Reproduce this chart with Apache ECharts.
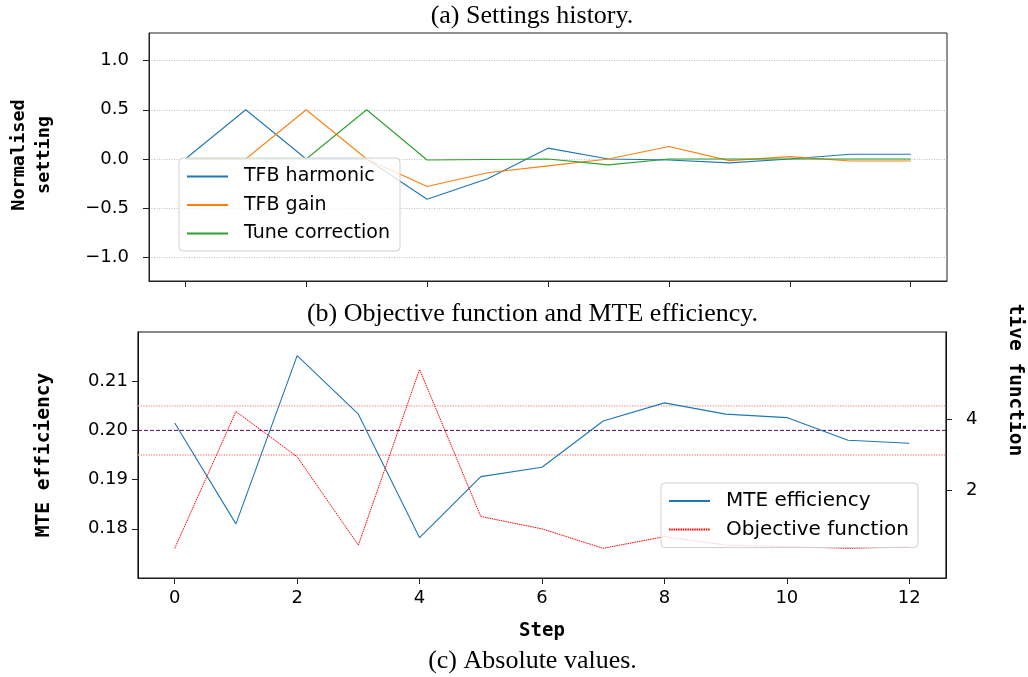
<!DOCTYPE html>
<html><head><meta charset="utf-8">
<script src="https://cdn.jsdelivr.net/npm/echarts@6/dist/echarts.min.js"></script>
<style>html,body{margin:0;padding:0;background:#fff}#c{width:1028px;height:677px}</style>
</head><body><div id="c"></div>
<script>
// ---- data ----
const steps = [0, 1, 2, 3, 4, 5, 6, 7, 8, 9, 10, 11, 12];
const tfbHarmonic = [0, 0.5, 0, 0, -0.41, -0.20, 0.11, 0.0, -0.01, -0.04, 0.0, 0.048, 0.048];
const tfbGain = [0, 0, 0.5, 0, -0.28, -0.14, -0.07, 0.0, 0.126, -0.017, 0.024, -0.02, -0.02];
const tuneCorrection = [0, 0, 0, 0.5, -0.01, -0.005, 0, -0.06, 0, 0, 0, 0, 0];
const mteEfficiency = [0.2015, 0.1810, 0.2152, 0.2033, 0.1782, 0.1906, 0.1925, 0.2019, 0.2056, 0.2033, 0.2026, 0.1980, 0.1974];
const objectiveFunction = [0.35, 4.22, 2.94, 0.44, 5.41, 1.25, 0.90, 0.35, 0.68, 0.44, 0.40, 0.35, 0.39];
const mteTarget = 0.20;
const mteBand = [0.195, 0.205];
const stepTicks = [0, 2, 4, 6, 8, 10, 12];
const settingTicks = [-1, -0.5, 0, 0.5, 1];
const mteTicks = [0.18, 0.19, 0.20, 0.21];
const objectiveTicks = [2, 4];
const settingNames = ['TFB harmonic', 'TFB gain', 'Tune correction'];
const bottomNames = ['MTE efficiency', 'Objective function'];

const pairs = arr => steps.map((s, i) => [s, arr[i]]);
const tickFont = {fontFamily: 'DejaVu Sans', fontSize: 18, color: '#000'};
const minus = v => (v < 0 ? '\u2212' : '');

const chart = echarts.init(document.getElementById('c'), null, {renderer: 'canvas'});
const xCommon = {
  type: 'value', min: -0.6, max: 12.6,
  axisLine: {show: true, onZero: false, lineStyle: {color: '#222', width: 1}},
  axisTick: {show: true, length: 6, customValues: stepTicks, lineStyle: {color: '#222'}},
  splitLine: {show: false}
};
const legendCommon = {
  orient: 'vertical', selectedMode: false, itemWidth: 41, itemHeight: 14,
  backgroundColor: 'rgba(255,255,255,0.8)', borderColor: '#d0d0d0', borderWidth: 1, borderRadius: 4,
  itemStyle: {opacity: 0}
};
const bandLine = v => ({
  type: 'line', xAxisIndex: 1, yAxisIndex: 1, silent: true, showSymbol: false,
  data: [[-0.6, v], [12.6, v]], color: '#f19a8c', lineStyle: {width: 1.3, type: 'dotted', color: '#f19a8c'}, z: 1
});
chart.setOption({
  animation: false,
  backgroundColor: '#fff',
  grid: [
    {left: 149, right: 81, top: 33, height: 248, show: true, borderColor: '#222', borderWidth: 1, backgroundColor: 'transparent'},
    {left: 138, right: 82, top: 332, height: 246, show: true, borderColor: '#111', borderWidth: 1.2, backgroundColor: 'transparent'}
  ],
  xAxis: [
    Object.assign({}, xCommon, {gridIndex: 0, axisLabel: {show: false, customValues: stepTicks}}),
    Object.assign({}, xCommon, {gridIndex: 1, axisLabel: Object.assign({show: true, customValues: stepTicks, margin: 11}, tickFont)})
  ],
  yAxis: [
    {gridIndex: 0, type: 'value', min: -1.24, max: 1.28,
     axisLine: {show: true, onZero: false, lineStyle: {color: '#222'}},
     axisTick: {show: true, length: 6, customValues: settingTicks, lineStyle: {color: '#222'}},
     axisLabel: Object.assign({customValues: settingTicks, margin: 20, formatter: v => minus(v) + Math.abs(v).toFixed(1)}, tickFont),
     splitLine: {show: true, lineStyle: {color: '#b0b0b0', type: [1, 1.5], width: 0.8}}},
    {gridIndex: 1, type: 'value', min: 0.17, max: 0.22,
     axisLine: {show: true, onZero: false, lineStyle: {color: '#111'}},
     axisTick: {show: true, length: 6, customValues: mteTicks, lineStyle: {color: '#222'}},
     axisLabel: Object.assign({customValues: mteTicks, margin: 10, formatter: v => v.toFixed(2)}, tickFont),
     splitLine: {show: false}},
    {gridIndex: 1, type: 'value', position: 'right', min: -0.49, max: 6.47,
     axisLine: {show: true, onZero: false, lineStyle: {color: '#111'}},
     axisTick: {show: true, length: 6, customValues: objectiveTicks, lineStyle: {color: '#222'}},
     axisLabel: Object.assign({customValues: objectiveTicks, margin: 20, formatter: v => String(v)}, tickFont),
     splitLine: {show: false}}
  ],
  legend: [
    Object.assign({}, legendCommon, {data: settingNames, left: 179, top: 158, itemGap: 9.5, padding: [9, 10, 8, 7],
      textStyle: {fontFamily: 'DejaVu Sans', fontSize: 19, color: '#000', lineHeight: 19, padding: [0, 0, 0, 11]}}),
    Object.assign({}, legendCommon, {data: bottomNames, left: 661, top: 483, itemGap: 8.6, padding: [8, 9, 8, 7],
      textStyle: {fontFamily: 'DejaVu Sans', fontSize: 20, color: '#000', lineHeight: 20, padding: [0, 0, 0, 11]}})
  ],
  series: [
    {name: settingNames[0], type: 'line', xAxisIndex: 0, yAxisIndex: 0, data: pairs(tfbHarmonic), showSymbol: false, color: '#1f77b4', lineStyle: {width: 1.1}},
    {name: settingNames[1], type: 'line', xAxisIndex: 0, yAxisIndex: 0, data: pairs(tfbGain), showSymbol: false, color: '#ff7f0e', lineStyle: {width: 1.1}},
    {name: settingNames[2], type: 'line', xAxisIndex: 0, yAxisIndex: 0, data: pairs(tuneCorrection), showSymbol: false, color: '#2ca02c', lineStyle: {width: 1.1}},
    bandLine(mteBand[1]),
    bandLine(mteBand[0]),
    {type: 'line', xAxisIndex: 1, yAxisIndex: 1, silent: true, showSymbol: false,
     data: [[-0.6, mteTarget], [12.6, mteTarget]], color: '#5a0a5a', lineStyle: {width: 1, type: [4, 2], color: '#5a0a5a'}, z: 1},
    {name: bottomNames[0], type: 'line', xAxisIndex: 1, yAxisIndex: 1, data: pairs(mteEfficiency), showSymbol: false, color: '#1f77b4', lineStyle: {width: 1.1}},
    {name: bottomNames[1], type: 'line', xAxisIndex: 1, yAxisIndex: 2, data: pairs(objectiveFunction), showSymbol: false, color: '#ff0000', lineStyle: {width: 1, type: [1.5, 0.8]}}
  ],
  graphic: [
    {type: 'text', x: 532, y: 16, style: {text: '(a) Settings history.', fontFamily: 'Liberation Serif', fontSize: 26, fill: '#000', align: 'center', verticalAlign: 'middle'}},
    {type: 'text', x: 532.5, y: 314, style: {text: '(b) Objective function and MTE efficiency.', fontFamily: 'Liberation Serif', fontSize: 26, fill: '#000', align: 'center', verticalAlign: 'middle'}},
    {type: 'text', x: 532.5, y: 661, style: {text: '(c) Absolute values.', fontFamily: 'Liberation Serif', fontSize: 26, fill: '#000', align: 'center', verticalAlign: 'middle'}},
    {type: 'text', x: 542, y: 631, style: {text: 'Step', fontFamily: 'DejaVu Sans Mono', fontWeight: 'bold', fontSize: 19, fill: '#000', align: 'center', verticalAlign: 'middle'}},
    {type: 'text', x: 31.5, y: 155, rotation: Math.PI / 2, style: {text: 'Normalised\nsetting', fontFamily: 'DejaVu Sans Mono', fontWeight: 'bold', fontSize: 18.5, lineHeight: 25, fill: '#000', align: 'center', verticalAlign: 'middle'}},
    {type: 'text', x: 43.5, y: 455, rotation: Math.PI / 2, style: {text: 'MTE efficiency', fontFamily: 'DejaVu Sans Mono', fontWeight: 'bold', fontSize: 19.5, fill: '#000', align: 'center', verticalAlign: 'middle'}},
    {type: 'text', x: 1015.5, y: 380, rotation: -Math.PI / 2, style: {text: 'tive function', fontFamily: 'DejaVu Sans Mono', fontWeight: 'bold', fontSize: 19.5, fill: '#000', align: 'center', verticalAlign: 'middle'}}
  ]
});
</script></body></html>
